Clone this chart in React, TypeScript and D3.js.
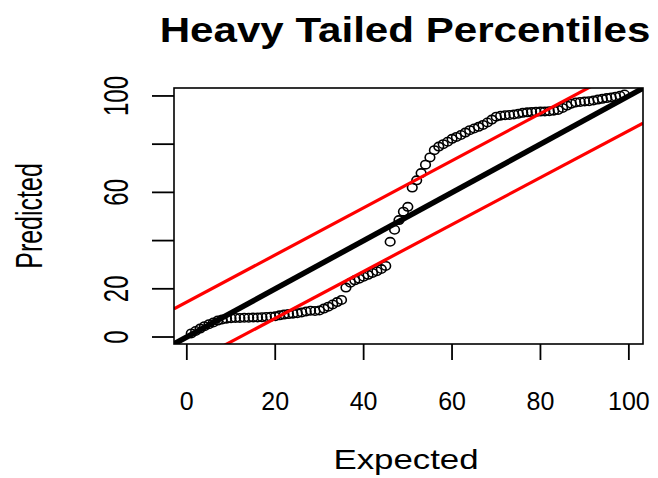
import React from 'react';
import * as d3 from 'd3';

// expected percentiles (x) and the predicted values (y)
const expected = d3.range(1, 100);
const predicted = [
    1.5, 2.5, 3.5, 4.5, 5.3, 6.0, 6.8, 7.3, 7.6, 7.8,
    7.9, 7.9, 8.0, 8.0, 8.1, 8.1, 8.2, 8.3, 8.4, 8.6,
    9.0, 9.3, 9.5, 9.7, 9.9, 10.2, 10.6, 10.9, 10.8, 11.0,
    11.8, 12.6, 13.5, 14.5, 15.4, 20.5, 22.5, 23.5, 24.2, 25.0,
    25.8, 26.6, 27.3, 28.2, 29.5, 39.5, 44.5, 48.5, 52.0, 54.0,
    62.0, 65.0, 68.0, 71.5, 74.5, 77.5, 79.0, 80.0, 81.0, 82.2,
    83.0, 83.8, 84.8, 85.8, 86.5, 87.2, 88.0, 89.0, 90.2, 91.4,
    91.8, 92.0, 92.1, 92.3, 92.6, 93.0, 93.2, 93.3, 93.4, 93.5,
    93.6, 93.7, 93.9, 94.2, 95.0, 96.0, 96.8, 97.3, 97.5, 97.7,
    97.8, 98.1, 98.5, 98.8, 99.1, 99.4, 99.7, 100.1, 100.6,
];

// reference lines: identity plus the two red bounds
const lineIntercepts = [0, 14.5, -11.7];
const lineSlopes = [1, 0.978, 0.973];
const lineColors = ['#000000', '#ff0000', '#ff0000'];
const lineWidths = [5.5, 3.2, 3.2];

const xTicks = [0, 20, 40, 60, 80, 100];
const yTicks = [0, 20, 40, 60, 80, 100];
const yTickLabels = [0, 20, 60, 100];

const title = 'Heavy Tailed Percentiles';
const xTitle = 'Expected';
const yTitle = 'Predicted';

const W = 658;
const H = 478;
const box = { left: 174, right: 643, top: 88, bottom: 344 };
const font = '"Liberation Sans", Arial, sans-serif';

export default function App() {
    const x = d3.scaleLinear().domain([-2.9, 103.2]).range([box.left, box.right]);
    const y = d3.scaleLinear().domain([-2.9, 103.3]).range([box.bottom, box.top]);
    const [x0, x1] = x.domain();

    return (
        <svg width={W} height={H} style={{ position: 'absolute', left: 0, top: 0, background: '#fff' }}>
            <defs>
                <clipPath id="plotArea">
                    <rect x={box.left} y={box.top} width={box.right - box.left} height={box.bottom - box.top} />
                </clipPath>
            </defs>

            {/* title */}
            <text
                transform={`translate(405,42) scale(1.17,1)`}
                textAnchor="middle"
                fontFamily={font}
                fontWeight="bold"
                fontSize={36}
            >{title}</text>

            {/* points */}
            <g>
                {expected.map((e, i) => (
                    <ellipse
                        key={i}
                        cx={x(e)}
                        cy={y(predicted[i])}
                        rx={4.8}
                        ry={4.2}
                        fill="none"
                        stroke="#000"
                        strokeWidth={1.6}
                    />
                ))}
            </g>

            {/* ablines */}
            <g clipPath="url(#plotArea)">
                {lineIntercepts.map((a, i) => {
                    const b = lineSlopes[i];
                    return (
                        <line
                            key={i}
                            x1={x(x0)}
                            y1={y(a + b * x0)}
                            x2={x(x1)}
                            y2={y(a + b * x1)}
                            stroke={lineColors[i]}
                            strokeWidth={lineWidths[i]}
                        />
                    );
                })}
            </g>

            {/* box */}
            <rect
                x={box.left}
                y={box.top}
                width={box.right - box.left}
                height={box.bottom - box.top}
                fill="none"
                stroke="#000"
                strokeWidth={1.6}
            />

            {/* x axis */}
            <g>
                {xTicks.map(t => (
                    <g key={t}>
                        <line x1={x(t)} x2={x(t)} y1={box.bottom} y2={box.bottom + 16} stroke="#000" strokeWidth={1.8} />
                        <text x={x(t)} y={410} textAnchor="middle" fontFamily={font} fontSize={25}>{t}</text>
                    </g>
                ))}
                <text
                    transform={`translate(406,469) scale(1.29,1)`}
                    textAnchor="middle"
                    fontFamily={font}
                    fontSize={27}
                >{xTitle}</text>
            </g>

            {/* y axis */}
            <g>
                {yTicks.map(t => (
                    <line key={t} x1={box.left - 22} x2={box.left} y1={y(t)} y2={y(t)} stroke="#000" strokeWidth={1.8} />
                ))}
                {yTickLabels.map(t => (
                    <text
                        key={t}
                        transform={`translate(128,${y(t)}) scale(1.5,1) rotate(-90)`}
                        textAnchor="middle"
                        fontFamily={font}
                        fontSize={24}
                    >{t}</text>
                ))}
                <text
                    transform={`translate(41.5,${(box.top + box.bottom) / 2}) scale(1.48,1) rotate(-90)`}
                    textAnchor="middle"
                    fontFamily={font}
                    fontSize={25}
                >{yTitle}</text>
            </g>
        </svg>
    );
}
